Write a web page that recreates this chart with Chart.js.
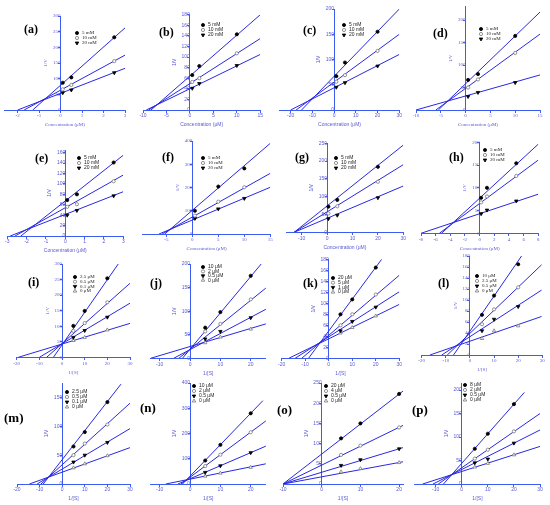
<!DOCTYPE html>
<html>
<head>
<meta charset="utf-8">
<script src="https://cdn.jsdelivr.net/npm/chart.js@4.4.0/dist/chart.umd.min.js"></script>
<style>
body { margin: 0; background: #fff; width: 550px; height: 505px; position: relative; overflow: hidden; }
.pan { position: absolute; width: 140px; height: 130px; }
.pan canvas { position: absolute; left: 0; top: 0; }
.tag { position: absolute; font: bold 12px "Liberation Serif", serif; color: #000; line-height: 12px; }
</style>
</head>
<body>
<script>
// series names
var mM = ['5 mM', '10 mM', '20 mM'];
var CONC = 'Concentration (μM)';
var RECIP = '1/[S]';

// (a)
var aX = [0.1, 0.5, 2.5];
var aY = [[87, 104, 232], [66, 80, 156], [55, 64, 119]];
var aFit = [[[-1.3, 0], [3, 262]], [[-1.7, 0], [3, 175]], [[-2.0, 0], [3, 133]]];
var aXT = [-2, -1, 0, 1, 2, 3];
var aYT = [0, 50, 100, 150, 200, 250, 300];
// (b)
var bX = [0.5, 2, 10];
var bY = [[66, 83, 143], [53, 60, 107], [41, 50, 84]];
var bFit = [[[-8.3, 0], [15, 180]], [[-8.8, 0], [15, 135]], [[-9.3, 0], [15, 105]]];
var bXT = [-10, -5, 0, 5, 10, 15];
var bYT = [0, 20, 40, 60, 80, 100, 120, 140, 160, 180];
// (c)
var cX = [1, 5, 20];
var cY = [[67, 94, 155], [56, 69, 117], [45, 54, 87]];
var cFit = [[[-15, 0], [30, 200]], [[-17.5, 0], [30, 150]], [[-20, 0], [30, 110]]];
var cXT = [-20, -10, 0, 10, 20, 30];
var cYT = [0, 50, 100, 150, 200];
// (d)
var dX = [0.5, 2.5, 10];
var dY = [[67, 80, 165], [50, 68, 127], [30, 39, 61]];
var dFit = [[[-5.5, 0], [15, 218]], [[-6, 0], [15, 169]], [[-10, 0], [15, 78]]];
var dXT = [-10, -5, 0, 5, 10, 15];
var dYT = [0, 50, 100, 150, 200];
// (e)
var eX = [0.1, 0.6, 2.5];
var eY = [[69, 80, 141], [56, 61, 105], [40, 49, 77]];
var eFit = [[[-2.3, 0], [3, 155]], [[-2.6, 0], [3, 117]], [[-2.85, 0], [3, 85]]];
var eXT = [-3, -2, -1, 0, 1, 2, 3];
var eYT = [0, 20, 40, 60, 80, 100, 120, 140, 160];
// (f)
var fX = [0.5, 5, 10];
var fY = [[100, 204, 282], [79, 139, 201], [67, 108, 153]];
var fFit = [[[-5.3, 0], [15, 390]], [[-5.8, 0], [15, 261]], [[-6.4, 0], [15, 201]]];
var fXT = [-5, 0, 5, 10, 15];
var fYT = [0, 100, 200, 300, 400];
// (g)
var gX = [0.5, 4, 20];
var gY = [[72, 91, 184], [53, 73, 142], [38, 48, 97]];
var gFit = [[[-13, 0], [30, 245]], [[-13, 0], [30, 190]], [[-13, 0], [30, 130]]];
var gXT = [-10, 0, 10, 20, 30];
var gYT = [0, 50, 100, 150, 200, 250];
// (h)
var hX = [0.2, 1, 5];
var hY = [[78, 100, 154], [68, 81, 126], [43, 51, 71]];
var hFit = [[[-5.2, 0], [8, 196]], [[-5.5, 0], [8, 161]], [[-8, 0], [8, 86]]];
var hXT = [-8, -6, -4, -2, 0, 2, 4, 6, 8];
var hYT = [0, 50, 100, 150, 200];
// (i)
var iX = [5, 10, 20];
var iNames = ['2.5 μM', '0.5 μM', '0.1 μM', '0 μM'];
var iY = [[101, 149, 254], [85, 110, 177], [64, 86, 129], [54, 64, 88]];
var iFit = [[[-3.8, 0], [25, 302]], [[-6.8, 0], [30, 238]], [[-10, 0], [30, 174]], [[-19.3, 0], [30, 109]]];
var iXT = [-20, -10, 0, 10, 20, 30];
var iYT = [0, 50, 100, 150, 200, 250, 300];
// (j)
var jX = [5, 10, 20];
var jNames = ['10 μM', '2 μM', '0.5 μM', '0 μM'];
var jY = [[65, 98, 175], [57, 73, 125], [41, 57, 86], [33, 45, 62]];
var jFit = [[[-2.5, 0], [23.7, 202]], [[-3.7, 0], [25, 149]], [[-5.4, 0], [25, 104]], [[-13, 0], [25, 73]]];
var jXT = [-10, 0, 10, 20];
var jYT = [0, 50, 100, 150, 200];
// (k)
var kX = [5, 10, 20];
var kNames = ['20 μM', '5 μM', '1 μM', '0 μM'];
var kY = [[80, 107, 165], [60, 80, 116], [50, 67, 93], [46, 56, 77]];
var kFit = [[[-8.6, 0], [22.5, 180]], [[-11.5, 0], [30, 151]], [[-14.3, 0], [30, 121]], [[-17, 0], [30, 98]]];
var kXT = [-20, -10, 0, 10, 20, 30];
var kYT = [0, 20, 40, 60, 80, 100, 120, 140, 160, 180];
// (l)
var lX = [5, 10, 20];
var lNames = ['10 μM', '2.5 μM', '0.5 μM', '0 μM'];
var lY = [[73, 108, 165], [56, 83, 123], [44, 65, 88], [30, 44, 53]];
var lFit = [[[-6.8, 0], [21.4, 180]], [[-9.4, 0], [29.7, 164]], [[-11.7, 0], [29.7, 118]], [[-16.6, 0], [29.7, 70]]];
var lXT = [-20, -10, 0, 10, 20, 30];
var lYT = [0, 20, 40, 60, 80, 100, 120, 140, 160, 180];
// (m)
var mX = [5, 10, 20];
var mNames = ['2.5 μM', '0.5 μM', '0.1 μM', '0 μM'];
var mY = [[65, 90, 142], [50, 70, 103], [38, 50, 72], [28, 35, 49]];
var mFit = [[[-8.4, 0], [26, 173]], [[-9.4, 0], [30, 140]], [[-11.1, 0], [30, 96]], [[-14.5, 0], [30, 63]]];
var mXT = [-20, -10, 0, 10, 20, 30];
var mYT = [0, 50, 100, 150];
// (n)
var nX = [5, 10, 20];
var nNames = ['10 μM', '2 μM', '0.5 μM', '0 μM'];
var nY = [[93, 155, 280], [71, 116, 205], [46, 72, 124], [31, 43, 66]];
var nFit = [[[-2.5, 0], [24, 330]], [[-3, 0], [25, 250]], [[-4, 0], [25, 150]], [[-8, 0], [25, 80]]];
var nXT = [-10, 0, 10, 20];
var nYT = [0, 100, 200, 300, 400];
// (o)
var oX = [5, 10, 20];
var oNames = ['20 μM', '4 μM', '0.5 μM', '0 μM'];
var oY = [[113, 150, 223], [72, 95, 140], [46, 60, 87], [30, 38, 53]];
var oFit = [[[-10, 0], [21, 230]], [[-10, 0], [21, 145]], [[-10, 0], [21, 90]], [[-10, 0], [21, 55]]];
var oXT = [-10, 0, 10, 20];
var oYT = [0, 50, 100, 150, 200, 250];
// (p)
var pX = [5, 10, 20];
var pNames = ['8 μM', '2 μM', '0.5 μM', '0 μM'];
var pY = [[75, 107, 170], [54, 73, 112], [45, 53, 87], [36, 44, 62]];
var pFit = [[[-7, 0], [24, 195]], [[-9, 0], [30, 150]], [[-11, 0], [30, 115]], [[-15, 0], [30, 80]]];
var pXT = [-10, 0, 10, 20, 30];
var pYT = [0, 50, 100, 150, 200];

var AXIS = '#3d5cf0';
var LINE = '#2828e2';
var TICK = '#5a5ad2';
var SERIF = '"Liberation Serif", serif';
var SANS = '"Liberation Sans", Arial, sans-serif';

// marker looks, by series order
var MARK = [
    { style: 'circle', rot: 0, r: 1.6, fill: '#000', edge: '#000' },
    { style: 'circle', rot: 0, r: 1.6, fill: '#fff', edge: '#777' },
    { style: 'triangle', rot: 180, r: 2.0, fill: '#000', edge: '#000' },
    { style: 'triangle', rot: 0, r: 2.0, fill: '#fff', edge: '#777' }
];

// layout: pos = panel corner, area = chart area inside the panel [l, t, r, b]
var panels = [
    { id: 'a', pos: [0, 0], area: [1.8, 16, 125, 110], xr: [-2.6, 3], yMax: 300, xs: aX, ys: aY, fit: aFit, xt: aXT, yt: aYT, names: mM, xTitle: CONC, tag: [24, 23], leg: [77, 33, 5], serif: true },
    { id: 'b', pos: [137, 0], area: [6, 14.7, 123.3, 110], xr: [-10, 15], yMax: 180, xs: bX, ys: bY, fit: bFit, xt: bXT, yt: bYT, names: mM, xTitle: CONC, tag: [22, 26], leg: [66, 25, 5], serif: false },
    { id: 'c', pos: [275, 0], area: [1.5, 9, 124.3, 110], xr: [-25, 30], yMax: 200, xs: cX, ys: cY, fit: cFit, xt: cXT, yt: cYT, names: mM, xTitle: CONC, tag: [28, 24], leg: [69, 25, 5], serif: false },
    { id: 'd', pos: [410, 0], area: [6, 6.7, 130, 110], xr: [-10, 15], yMax: 230, xs: dX, ys: dY, fit: dFit, xt: dXT, yt: dYT, names: mM, xTitle: CONC, tag: [23, 27], leg: [71, 29, 5], serif: true },
    { id: 'e', pos: [0, 125], area: [7.3, 25, 123.3, 111], xr: [-3, 3], yMax: 165, xs: eX, ys: eY, fit: eFit, xt: eXT, yt: eYT, names: mM, xTitle: CONC, tag: [35, 27], leg: [79, 33, 5], serif: false },
    { id: 'f', pos: [137, 125], area: [5.9, 16, 133.3, 109], xr: [-9.5, 15], yMax: 400, xs: fX, ys: fY, fit: fFit, xt: fXT, yt: fYT, names: mM, xTitle: CONC, tag: [25, 26], leg: [66, 33, 5], serif: true },
    { id: 'g', pos: [275, 125], area: [11.5, 18.3, 128.3, 107.3], xr: [-16, 30], yMax: 250, xs: gX, ys: gY, fit: gFit, xt: gXT, yt: gYT, names: mM, xTitle: CONC, tag: [20, 26], leg: [61, 33, 5], serif: false },
    { id: 'h', pos: [410, 125], area: [11, 17.3, 128.3, 108.3], xr: [-8, 8], yMax: 200, xs: hX, ys: hY, fit: hFit, xt: hXT, yt: hYT, names: mM, xTitle: CONC, tag: [39, 26], leg: [75, 25, 5], serif: true },
    { id: 'i', pos: [0, 250], area: [16.7, 14, 130, 107.3], xr: [-20, 30], yMax: 300, xs: iX, ys: iY, fit: iFit, xt: iXT, yt: iYT, names: iNames, xTitle: RECIP, tag: [28, 26], leg: [75, 27, 4.7], serif: true },
    { id: 'j', pos: [137, 250], area: [13.6, 14, 128.9, 108.3], xr: [-13, 25], yMax: 200, xs: jX, ys: jY, fit: jFit, xt: jXT, yt: jYT, names: jNames, xTitle: RECIP, tag: [13, 27], leg: [66, 17, 4.4], serif: false },
    { id: 'k', pos: [275, 250], area: [6.7, 9.3, 124.3, 108.3], xr: [-20, 30], yMax: 180, xs: kX, ys: kY, fit: kFit, xt: kXT, yt: kYT, names: kNames, xTitle: RECIP, tag: [28, 27], leg: [58, 28, 4.7], serif: false },
    { id: 'l', pos: [410, 250], area: [11.7, 6, 132.3, 105], xr: [-20, 30], yMax: 180, xs: lX, ys: lY, fit: lFit, xt: lXT, yt: lYT, names: lNames, xTitle: RECIP, tag: [28, 27], leg: [67, 26, 5], serif: true },
    { id: 'm', pos: [0, 378], area: [17, 5, 130, 106], xr: [-20, 30], yMax: 175, xs: mX, ys: mY, fit: mFit, xt: mXT, yt: mYT, names: mNames, xTitle: RECIP, tag: [4, 34], leg: [67, 14, 5], serif: false },
    { id: 'n', pos: [137, 378], area: [13.6, 5, 128.9, 106], xr: [-13, 25], yMax: 400, xs: nX, ys: nY, fit: nFit, xt: nXT, yt: nYT, names: nNames, xTitle: RECIP, tag: [3, 24], leg: [57, 8, 5], serif: false },
    { id: 'o', pos: [275, 378], area: [8, 5, 128, 106], xr: [-10, 21], yMax: 250, xs: oX, ys: oY, fit: oFit, xt: oXT, yt: oYT, names: oNames, xTitle: RECIP, tag: [2, 26], leg: [51, 8, 5], serif: false },
    { id: 'p', pos: [410, 378], area: [1, 5, 130, 106], xr: [-18, 30], yMax: 215, xs: pX, ys: pY, fit: pFit, xt: pXT, yt: pYT, names: pNames, xTitle: RECIP, tag: [2, 26], leg: [55, 7, 5], serif: false }
];

function drawMark(ctx, i, x, y) {
    var m = MARK[i];
    ctx.beginPath();
    if (m.style === 'circle') {
        ctx.arc(x, y, m.r, 0, 2 * Math.PI);
    } else {
        var r = m.r, s = m.rot ? 1 : -1;
        ctx.moveTo(x, y + s * r);
        ctx.lineTo(x - r * 0.87, y - s * r * 0.5);
        ctx.lineTo(x + r * 0.87, y - s * r * 0.5);
        ctx.closePath();
    }
    ctx.fillStyle = m.fill;
    ctx.fill();
    ctx.strokeStyle = m.edge;
    ctx.lineWidth = 0.8;
    ctx.stroke();
}

// legend inside the plot + rotated y title
var decor = {
    id: 'decor',
    afterDraw: function (chart) {
        var p = chart.options.plugins.decor;
        var ctx = chart.ctx;
        var fam = p.serif ? SERIF : SANS;
        var x0 = chart.scales.x.getPixelForValue(0);
        var area = chart.chartArea;
        ctx.save();
        ctx.font = '5px ' + fam;
        var wide = 0;
        p.yt.forEach(function (v) { wide = Math.max(wide, ctx.measureText(String(v)).width); });
        ctx.translate(x0 - wide - 7, (area.top + area.bottom) / 2);
        ctx.rotate(-Math.PI / 2);
        ctx.fillStyle = TICK;
        ctx.textAlign = 'center';
        ctx.textBaseline = 'middle';
        ctx.fillText('1/V', 0, 0);
        ctx.restore();

        ctx.save();
        ctx.font = '5px ' + fam;
        ctx.textBaseline = 'middle';
        p.names.forEach(function (n, i) {
            var lx = p.leg[0], ly = p.leg[1] + i * p.leg[2];
            drawMark(ctx, i, lx, ly);
            ctx.fillStyle = '#222';
            ctx.fillText(n, lx + 5, ly);
        });
        ctx.restore();
    }
};

panels.forEach(function (p) {
    var wrap = document.createElement('div');
    wrap.className = 'pan';
    wrap.style.left = p.pos[0] + 'px';
    wrap.style.top = p.pos[1] + 'px';
    var cv = document.createElement('canvas');
    cv.width = 140;
    cv.height = 130;
    wrap.appendChild(cv);
    var tag = document.createElement('div');
    tag.className = 'tag';
    tag.textContent = '(' + p.id + ')';
    tag.style.left = p.tag[0] + 'px';
    tag.style.top = p.tag[1] + 'px';
    if (p.id >= 'm') tag.style.fontSize = '13px';
    wrap.appendChild(tag);
    document.body.appendChild(wrap);

    var fam = p.serif ? SERIF : SANS;
    var datasets = [];
    p.ys.forEach(function (vals, i) {
        datasets.push({
            data: p.xs.map(function (x, k) { return { x: x, y: vals[k] }; }),
            showLine: false,
            pointStyle: MARK[i].style,
            rotation: MARK[i].rot,
            pointRadius: MARK[i].r,
            backgroundColor: MARK[i].fill,
            borderColor: MARK[i].edge,
            borderWidth: 0.8,
            order: 0
        });
    });
    p.fit.forEach(function (f) {
        datasets.push({
            data: f.map(function (pt) { return { x: pt[0], y: pt[1] }; }),
            showLine: true,
            pointRadius: 0,
            borderColor: LINE,
            borderWidth: 1,
            order: 1
        });
    });

    var axisStyle = function (ticks) {
        return {
            type: 'linear',
            afterBuildTicks: function (s) { s.ticks = ticks.map(function (v) { return { value: v }; }); },
            border: { color: AXIS, width: 1 },
            grid: { drawOnChartArea: false, tickLength: 2, color: AXIS },
            ticks: { color: TICK, font: { size: 5, family: fam }, padding: 1, maxRotation: 0, autoSkip: false }
        };
    };
    var xs = axisStyle(p.xt);
    xs.min = p.xr[0];
    xs.max = p.xr[1];
    xs.position = { y: 0 };
    xs.title = { display: true, text: p.xTitle, color: TICK, font: { size: 5, family: fam }, padding: { top: 2, bottom: 0 } };
    var ys = axisStyle(p.yt);
    ys.min = 0;
    ys.max = p.yMax;
    ys.position = { x: 0 };

    new Chart(cv, {
        type: 'scatter',
        data: { datasets: datasets },
        options: {
            responsive: false,
            animation: false,
            devicePixelRatio: 1,
            layout: { padding: { left: p.area[0], top: p.area[1], right: 140 - p.area[2], bottom: 130 - p.area[3] } },
            scales: { x: xs, y: ys },
            plugins: {
                legend: { display: false },
                tooltip: { enabled: false },
                decor: { names: p.names, leg: p.leg, serif: p.serif, yt: p.yt }
            }
        },
        plugins: [decor]
    });
});
</script>
</body>
</html>
